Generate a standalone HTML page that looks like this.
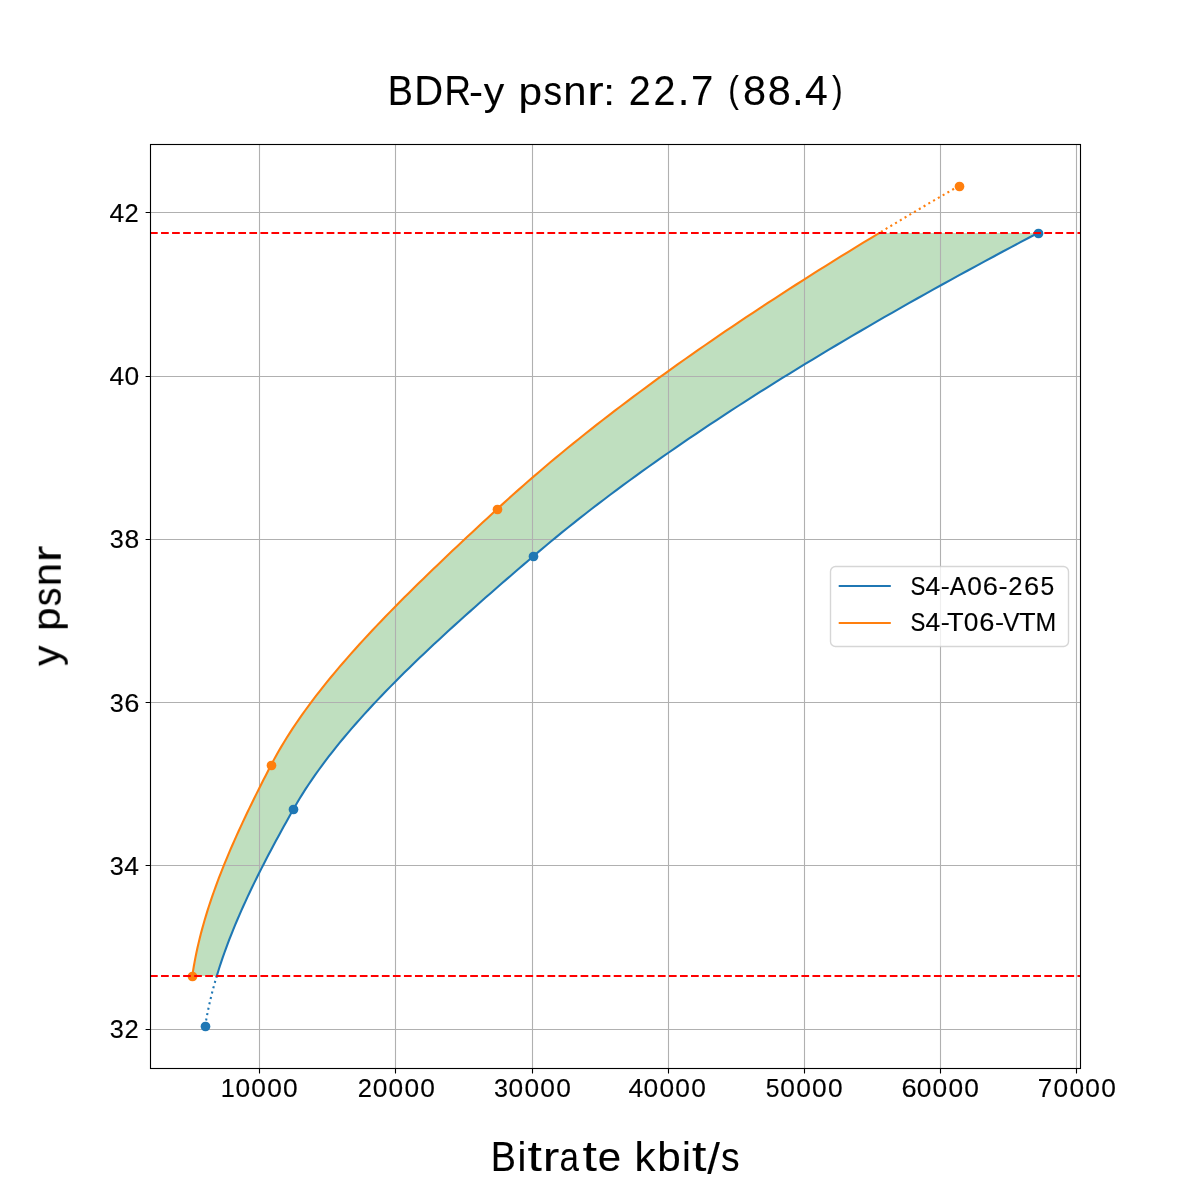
<!DOCTYPE html>
<html lang="en"><head><meta charset="utf-8"><title>BDR-y psnr: 22.7 (88.4)</title>
<style>
html,body{margin:0;padding:0;background:#ffffff;overflow:hidden}
#fig{position:relative;width:1200px;height:1200px;overflow:hidden;background:#ffffff;font-family:"Liberation Sans",sans-serif;color:#000000}
.t{position:absolute;left:0;top:0;white-space:pre;line-height:1;transform-origin:0 0;will-change:transform}
.t span{display:inline-block;width:0;transform-origin:0 0;white-space:pre}
</style></head>
<body><div id="fig">
<svg width="1200" height="1200" viewBox="0 0 1200 1200" style="position:absolute;left:0;top:0">
<defs><clipPath id="ax"><rect x="150" y="144" width="930" height="924"/></clipPath></defs>
<rect x="0" y="0" width="1200" height="1200" fill="#ffffff"/>
<g clip-path="url(#ax)">
<path d="M192.27 976.10 L192.97 971.43 L193.74 966.75 L194.57 962.08 L195.46 957.41 L196.41 952.74 L197.42 948.06 L198.49 943.39 L199.61 938.72 L200.79 934.04 L202.03 929.37 L203.32 924.70 L204.66 920.02 L206.06 915.35 L207.50 910.68 L208.99 906.01 L210.53 901.33 L212.12 896.66 L213.75 891.99 L215.43 887.31 L217.15 882.64 L218.91 877.97 L220.71 873.29 L222.56 868.62 L224.44 863.95 L226.35 859.28 L228.31 854.60 L230.29 849.93 L232.32 845.26 L234.37 840.58 L236.46 835.91 L238.57 831.24 L240.71 826.57 L242.89 821.89 L245.08 817.22 L247.31 812.55 L249.56 807.87 L251.83 803.20 L254.12 798.53 L256.43 793.85 L258.77 789.18 L261.12 784.51 L263.49 779.84 L265.87 775.16 L268.27 770.49 L270.68 765.82 L273.13 761.14 L275.68 756.47 L278.31 751.80 L281.03 747.13 L283.83 742.45 L286.71 737.78 L289.68 733.11 L292.72 728.43 L295.85 723.76 L299.05 719.09 L302.33 714.41 L305.68 709.74 L309.10 705.07 L312.59 700.40 L316.16 695.72 L319.78 691.05 L323.48 686.38 L327.24 681.70 L331.06 677.03 L334.95 672.36 L338.89 667.68 L342.90 663.01 L346.95 658.34 L351.07 653.67 L355.24 648.99 L359.46 644.32 L363.73 639.65 L368.04 634.97 L372.41 630.30 L376.82 625.63 L381.28 620.96 L385.78 616.28 L390.32 611.61 L394.90 606.94 L399.51 602.26 L404.17 597.59 L408.86 592.92 L413.58 588.24 L418.33 583.57 L423.12 578.90 L427.93 574.23 L432.77 569.55 L437.63 564.88 L442.52 560.21 L447.44 555.53 L452.37 550.86 L457.32 546.19 L462.29 541.52 L467.28 536.84 L472.28 532.17 L477.29 527.50 L482.31 522.82 L487.35 518.15 L492.39 513.48 L497.44 508.80 L502.53 504.13 L507.67 499.46 L512.86 494.79 L518.10 490.11 L523.39 485.44 L528.74 480.77 L534.13 476.09 L539.58 471.42 L545.08 466.75 L550.63 462.07 L556.23 457.40 L561.87 452.73 L567.57 448.06 L573.32 443.38 L579.11 438.71 L584.96 434.04 L590.85 429.36 L596.79 424.69 L602.78 420.02 L608.82 415.35 L614.91 410.67 L621.04 406.00 L627.22 401.33 L633.45 396.65 L639.72 391.98 L646.04 387.31 L652.41 382.63 L658.82 377.96 L665.28 373.29 L671.78 368.62 L678.33 363.94 L684.92 359.27 L691.56 354.60 L698.24 349.92 L704.97 345.25 L711.74 340.58 L718.55 335.91 L725.41 331.23 L732.31 326.56 L739.26 321.89 L746.24 317.21 L753.27 312.54 L760.34 307.87 L767.45 303.19 L774.61 298.52 L781.80 293.85 L789.04 289.18 L796.32 284.50 L803.64 279.83 L810.99 275.16 L818.39 270.48 L825.83 265.81 L833.31 261.14 L840.83 256.46 L848.39 251.79 L855.98 247.12 L863.62 242.45 L871.29 237.77 L879.00 233.10 L1037.73 233.10 L1028.85 237.77 L1020.01 242.45 L1011.21 247.12 L1002.46 251.79 L993.74 256.46 L985.06 261.14 L976.43 265.81 L967.84 270.48 L959.29 275.16 L950.78 279.83 L942.31 284.50 L933.89 289.18 L925.51 293.85 L917.18 298.52 L908.89 303.19 L900.64 307.87 L892.44 312.54 L884.28 317.21 L876.16 321.89 L868.10 326.56 L860.07 331.23 L852.10 335.91 L844.17 340.58 L836.28 345.25 L828.44 349.92 L820.65 354.60 L812.91 359.27 L805.22 363.94 L797.57 368.62 L789.97 373.29 L782.42 377.96 L774.91 382.63 L767.46 387.31 L760.06 391.98 L752.70 396.65 L745.40 401.33 L738.14 406.00 L730.94 410.67 L723.78 415.35 L716.68 420.02 L709.63 424.69 L702.63 429.36 L695.68 434.04 L688.78 438.71 L681.94 443.38 L675.15 448.06 L668.41 452.73 L661.73 457.40 L655.10 462.07 L648.52 466.75 L642.00 471.42 L635.53 476.09 L629.12 480.77 L622.76 485.44 L616.45 490.11 L610.21 494.79 L604.02 499.46 L597.88 504.13 L591.80 508.80 L585.78 513.48 L579.81 518.15 L573.91 522.82 L568.05 527.50 L562.26 532.17 L556.53 536.84 L550.85 541.52 L545.24 546.19 L539.68 550.86 L534.18 555.53 L528.72 560.21 L523.28 564.88 L517.84 569.55 L512.42 574.23 L507.02 578.90 L501.63 583.57 L496.26 588.24 L490.92 592.92 L485.59 597.59 L480.29 602.26 L475.01 606.94 L469.76 611.61 L464.53 616.28 L459.34 620.96 L454.18 625.63 L449.05 630.30 L443.96 634.97 L438.90 639.65 L433.88 644.32 L428.90 648.99 L423.96 653.67 L419.06 658.34 L414.20 663.01 L409.40 667.68 L404.63 672.36 L399.92 677.03 L395.26 681.70 L390.65 686.38 L386.09 691.05 L381.59 695.72 L377.14 700.40 L372.76 705.07 L368.43 709.74 L364.16 714.41 L359.96 719.09 L355.82 723.76 L351.75 728.43 L347.74 733.11 L343.81 737.78 L339.94 742.45 L336.15 747.13 L332.43 751.80 L328.79 756.47 L325.22 761.14 L321.73 765.82 L318.33 770.49 L315.00 775.16 L311.76 779.84 L308.60 784.51 L305.53 789.18 L302.55 793.85 L299.66 798.53 L296.86 803.20 L294.15 807.87 L291.52 812.55 L288.90 817.22 L286.30 821.89 L283.71 826.57 L281.14 831.24 L278.59 835.91 L276.06 840.58 L273.55 845.26 L271.06 849.93 L268.60 854.60 L266.16 859.28 L263.75 863.95 L261.36 868.62 L259.00 873.29 L256.67 877.97 L254.37 882.64 L252.11 887.31 L249.87 891.99 L247.67 896.66 L245.51 901.33 L243.38 906.01 L241.30 910.68 L239.25 915.35 L237.24 920.02 L235.27 924.70 L233.34 929.37 L231.46 934.04 L229.63 938.72 L227.84 943.39 L226.10 948.06 L224.41 952.74 L222.76 957.41 L221.17 962.08 L219.63 966.75 L218.15 971.43 L216.72 976.10 Z" fill="#008000" fill-opacity="0.25"/>
<path d="M259.5 144V1068M395.5 144V1068M532.5 144V1068M668.5 144V1068M804.5 144V1068M940.5 144V1068M1076.5 144V1068M150 212.5H1080M150 376.5H1080M150 539.5H1080M150 702.5H1080M150 865.5H1080M150 1029.5H1080" stroke="#b0b0b0" stroke-width="1.11" fill="none"/>
<path d="M216.72 976.10 L218.15 971.43 L219.63 966.75 L221.17 962.08 L222.76 957.41 L224.41 952.74 L226.10 948.06 L227.84 943.39 L229.63 938.72 L231.46 934.04 L233.34 929.37 L235.27 924.70 L237.24 920.02 L239.25 915.35 L241.30 910.68 L243.38 906.01 L245.51 901.33 L247.67 896.66 L249.87 891.99 L252.11 887.31 L254.37 882.64 L256.67 877.97 L259.00 873.29 L261.36 868.62 L263.75 863.95 L266.16 859.28 L268.60 854.60 L271.06 849.93 L273.55 845.26 L276.06 840.58 L278.59 835.91 L281.14 831.24 L283.71 826.57 L286.30 821.89 L288.90 817.22 L291.52 812.55 L294.15 807.87 L296.86 803.20 L299.66 798.53 L302.55 793.85 L305.53 789.18 L308.60 784.51 L311.76 779.84 L315.00 775.16 L318.33 770.49 L321.73 765.82 L325.22 761.14 L328.79 756.47 L332.43 751.80 L336.15 747.13 L339.94 742.45 L343.81 737.78 L347.74 733.11 L351.75 728.43 L355.82 723.76 L359.96 719.09 L364.16 714.41 L368.43 709.74 L372.76 705.07 L377.14 700.40 L381.59 695.72 L386.09 691.05 L390.65 686.38 L395.26 681.70 L399.92 677.03 L404.63 672.36 L409.40 667.68 L414.20 663.01 L419.06 658.34 L423.96 653.67 L428.90 648.99 L433.88 644.32 L438.90 639.65 L443.96 634.97 L449.05 630.30 L454.18 625.63 L459.34 620.96 L464.53 616.28 L469.76 611.61 L475.01 606.94 L480.29 602.26 L485.59 597.59 L490.92 592.92 L496.26 588.24 L501.63 583.57 L507.02 578.90 L512.42 574.23 L517.84 569.55 L523.28 564.88 L528.72 560.21 L534.18 555.53 L539.68 550.86 L545.24 546.19 L550.85 541.52 L556.53 536.84 L562.26 532.17 L568.05 527.50 L573.91 522.82 L579.81 518.15 L585.78 513.48 L591.80 508.80 L597.88 504.13 L604.02 499.46 L610.21 494.79 L616.45 490.11 L622.76 485.44 L629.12 480.77 L635.53 476.09 L642.00 471.42 L648.52 466.75 L655.10 462.07 L661.73 457.40 L668.41 452.73 L675.15 448.06 L681.94 443.38 L688.78 438.71 L695.68 434.04 L702.63 429.36 L709.63 424.69 L716.68 420.02 L723.78 415.35 L730.94 410.67 L738.14 406.00 L745.40 401.33 L752.70 396.65 L760.06 391.98 L767.46 387.31 L774.91 382.63 L782.42 377.96 L789.97 373.29 L797.57 368.62 L805.22 363.94 L812.91 359.27 L820.65 354.60 L828.44 349.92 L836.28 345.25 L844.17 340.58 L852.10 335.91 L860.07 331.23 L868.10 326.56 L876.16 321.89 L884.28 317.21 L892.44 312.54 L900.64 307.87 L908.89 303.19 L917.18 298.52 L925.51 293.85 L933.89 289.18 L942.31 284.50 L950.78 279.83 L959.29 275.16 L967.84 270.48 L976.43 265.81 L985.06 261.14 L993.74 256.46 L1002.46 251.79 L1011.21 247.12 L1020.01 242.45 L1028.85 237.77 L1037.73 233.10" stroke="#1f77b4" stroke-width="2.083" fill="none" stroke-linejoin="round" stroke-linecap="square"/>
<path d="M205.20 1026.00 L205.47 1024.28 L205.76 1022.56 L206.05 1020.84 L206.35 1019.12 L206.66 1017.40 L206.99 1015.68 L207.31 1013.96 L207.65 1012.23 L208.00 1010.51 L208.36 1008.79 L208.72 1007.07 L209.10 1005.35 L209.48 1003.63 L209.87 1001.91 L210.27 1000.19 L210.68 998.47 L211.09 996.75 L211.52 995.03 L211.95 993.31 L212.39 991.59 L212.84 989.87 L213.30 988.14 L213.76 986.42 L214.24 984.70 L214.72 982.98 L215.21 981.26 L215.70 979.54 L216.21 977.82 L216.72 976.10" stroke="#1f77b4" stroke-width="2.083" fill="none" stroke-dasharray="2.083 3.4375"/>
<circle cx="205.5" cy="1026.5" r="4.86" fill="#1f77b4"/>
<circle cx="293.5" cy="809.5" r="4.86" fill="#1f77b4"/>
<circle cx="533.5" cy="556.5" r="4.86" fill="#1f77b4"/>
<circle cx="1038.5" cy="233.5" r="4.86" fill="#1f77b4"/>
<path d="M192.27 976.10 L192.97 971.43 L193.74 966.75 L194.57 962.08 L195.46 957.41 L196.41 952.74 L197.42 948.06 L198.49 943.39 L199.61 938.72 L200.79 934.04 L202.03 929.37 L203.32 924.70 L204.66 920.02 L206.06 915.35 L207.50 910.68 L208.99 906.01 L210.53 901.33 L212.12 896.66 L213.75 891.99 L215.43 887.31 L217.15 882.64 L218.91 877.97 L220.71 873.29 L222.56 868.62 L224.44 863.95 L226.35 859.28 L228.31 854.60 L230.29 849.93 L232.32 845.26 L234.37 840.58 L236.46 835.91 L238.57 831.24 L240.71 826.57 L242.89 821.89 L245.08 817.22 L247.31 812.55 L249.56 807.87 L251.83 803.20 L254.12 798.53 L256.43 793.85 L258.77 789.18 L261.12 784.51 L263.49 779.84 L265.87 775.16 L268.27 770.49 L270.68 765.82 L273.13 761.14 L275.68 756.47 L278.31 751.80 L281.03 747.13 L283.83 742.45 L286.71 737.78 L289.68 733.11 L292.72 728.43 L295.85 723.76 L299.05 719.09 L302.33 714.41 L305.68 709.74 L309.10 705.07 L312.59 700.40 L316.16 695.72 L319.78 691.05 L323.48 686.38 L327.24 681.70 L331.06 677.03 L334.95 672.36 L338.89 667.68 L342.90 663.01 L346.95 658.34 L351.07 653.67 L355.24 648.99 L359.46 644.32 L363.73 639.65 L368.04 634.97 L372.41 630.30 L376.82 625.63 L381.28 620.96 L385.78 616.28 L390.32 611.61 L394.90 606.94 L399.51 602.26 L404.17 597.59 L408.86 592.92 L413.58 588.24 L418.33 583.57 L423.12 578.90 L427.93 574.23 L432.77 569.55 L437.63 564.88 L442.52 560.21 L447.44 555.53 L452.37 550.86 L457.32 546.19 L462.29 541.52 L467.28 536.84 L472.28 532.17 L477.29 527.50 L482.31 522.82 L487.35 518.15 L492.39 513.48 L497.44 508.80 L502.53 504.13 L507.67 499.46 L512.86 494.79 L518.10 490.11 L523.39 485.44 L528.74 480.77 L534.13 476.09 L539.58 471.42 L545.08 466.75 L550.63 462.07 L556.23 457.40 L561.87 452.73 L567.57 448.06 L573.32 443.38 L579.11 438.71 L584.96 434.04 L590.85 429.36 L596.79 424.69 L602.78 420.02 L608.82 415.35 L614.91 410.67 L621.04 406.00 L627.22 401.33 L633.45 396.65 L639.72 391.98 L646.04 387.31 L652.41 382.63 L658.82 377.96 L665.28 373.29 L671.78 368.62 L678.33 363.94 L684.92 359.27 L691.56 354.60 L698.24 349.92 L704.97 345.25 L711.74 340.58 L718.55 335.91 L725.41 331.23 L732.31 326.56 L739.26 321.89 L746.24 317.21 L753.27 312.54 L760.34 307.87 L767.45 303.19 L774.61 298.52 L781.80 293.85 L789.04 289.18 L796.32 284.50 L803.64 279.83 L810.99 275.16 L818.39 270.48 L825.83 265.81 L833.31 261.14 L840.83 256.46 L848.39 251.79 L855.98 247.12 L863.62 242.45 L871.29 237.77 L879.00 233.10" stroke="#ff7f0e" stroke-width="2.083" fill="none" stroke-linejoin="round" stroke-linecap="square"/>
<path d="M958.80 186.00 L955.99 187.62 L953.18 189.25 L950.37 190.87 L947.57 192.50 L944.78 194.12 L941.99 195.74 L939.20 197.37 L936.42 198.99 L933.64 200.62 L930.86 202.24 L928.09 203.87 L925.33 205.49 L922.57 207.11 L919.81 208.74 L917.06 210.36 L914.31 211.99 L911.57 213.61 L908.83 215.23 L906.10 216.86 L903.37 218.48 L900.64 220.11 L897.92 221.73 L895.20 223.36 L892.49 224.98 L889.78 226.60 L887.08 228.23 L884.38 229.85 L881.69 231.48 L879.00 233.10" stroke="#ff7f0e" stroke-width="2.083" fill="none" stroke-dasharray="2.083 3.4375"/>
<circle cx="192.5" cy="976.5" r="4.86" fill="#ff7f0e"/>
<circle cx="271.5" cy="765.5" r="4.86" fill="#ff7f0e"/>
<circle cx="497.5" cy="509.5" r="4.86" fill="#ff7f0e"/>
<circle cx="959.5" cy="186.5" r="4.86" fill="#ff7f0e"/>
<path d="M150 233H1080" stroke="#ff0000" stroke-width="2.083" stroke-dasharray="7.708 3.333" fill="none"/>
<path d="M150 976H1080" stroke="#ff0000" stroke-width="2.083" stroke-dasharray="7.708 3.333" fill="none"/>
</g>
<path d="M259.5 1068.5V1073.4M395.5 1068.5V1073.4M532.5 1068.5V1073.4M668.5 1068.5V1073.4M804.5 1068.5V1073.4M940.5 1068.5V1073.4M1076.5 1068.5V1073.4M150.5 212.5H145.6M150.5 376.5H145.6M150.5 539.5H145.6M150.5 702.5H145.6M150.5 865.5H145.6M150.5 1029.5H145.6" stroke="#000000" stroke-width="1.11" fill="none"/>
<rect x="150.5" y="144.5" width="930" height="924" fill="none" stroke="#000000" stroke-width="1.11"/>
<rect x="830.5" y="566.5" width="238" height="80" rx="5" ry="5" fill="#ffffff" fill-opacity="0.8" stroke="#cccccc" stroke-opacity="0.8" stroke-width="1.39"/>
<path d="M838.7 586H890.8" stroke="#1f77b4" stroke-width="2.083"/>
<path d="M838.7 623H890.8" stroke="#ff7f0e" stroke-width="2.083"/>
</svg>
<div class="t" style="font-size:41px;transform:translate(386.976px,71px);-webkit-text-stroke:0.1px #000"><span style="transform:matrix(0.921,0,0,1.028,0.777,-0.955)">B</span><span style="transform:matrix(0.977,0,0,1.028,27.336,-0.955)">D</span><span style="transform:matrix(0.895,0,0,1.028,57.488,-0.955)">R</span><span style="transform:matrix(1.024,0,0,0.933,82.009,1.947)">-</span><span style="transform:matrix(1,0,0,0.961,96.684,1.139)">y</span><span> </span><span style="transform:matrix(1.033,0,0,0.965,131.517,0.993)">p</span><span style="transform:matrix(0.907,0,0,0.98,156.463,0.761)">s</span><span style="transform:matrix(1.02,0,0,0.973,176.346,0.905)">n</span><span style="transform:matrix(1.207,0,0,0.974,200.336,0.899)">r</span><span style="transform:matrix(1.025,0,0,0.923,216.164,2.607)">:</span><span> </span><span style="transform:matrix(0.964,0,0,1.029,241.761,-1.001)">2</span><span style="transform:matrix(0.964,0,0,1.03,266.51,-1.01)">2</span><span style="transform:matrix(1.026,0,0,1.14,290.658,-4.775)">.</span><span style="transform:matrix(0.979,0,0,1.028,303.942,-0.955)">7</span><span> </span><span style="transform:matrix(0.78,0,0,0.916,341.364,0.068)">(</span><span style="transform:matrix(1.011,0,0,1.032,355.971,-1.028)">8</span><span style="transform:matrix(1.011,0,0,1.032,380.719,-1.023)">8</span><span style="transform:matrix(1.026,0,0,1.14,404.909,-4.775)">.</span><span style="transform:matrix(0.998,0,0,1.028,418.061,-0.955)">4</span><span style="transform:matrix(0.78,0,0,0.916,444.922,0.068)">)</span></div>
<div class="t" style="font-size:41px;transform:translate(489.881px,1137.253px);-webkit-text-stroke:0.1px #000"><span style="transform:matrix(0.921,0,0,1.028,0.777,-0.955)">B</span><span style="transform:matrix(0.973,0,0,1.01,27.704,-0.333)">i</span><span style="transform:matrix(1.266,0,0,1.025,37.712,-1.185)">t</span><span style="transform:matrix(1.214,0,0,0.973,52.816,0.917)">r</span><span style="transform:matrix(0.854,0,0,0.977,69.533,0.86)">a</span><span style="transform:matrix(1.266,0,0,1.025,92.712,-1.185)">t</span><span style="transform:matrix(1.026,0,0,0.977,107.986,0.866)">e</span><span> </span><span style="transform:matrix(1.027,0,0,1.01,144.661,-0.333)">k</span><span style="transform:matrix(1.03,0,0,1.012,167.277,-0.342)">b</span><span style="transform:matrix(0.972,0,0,1.01,192.084,-0.333)">i</span><span style="transform:matrix(1.266,0,0,1.025,202.089,-1.185)">t</span><span style="transform:matrix(1.109,0,0,1.079,217.298,0.368)">/</span><span style="transform:matrix(0.907,0,0,0.981,231.212,0.745)">s</span></div>
<div class="t" style="font-size:41px;transform:translate(60.752px,667.228px) rotate(-90deg) translate(0,-34px);-webkit-text-stroke:0.1px #000"><span style="transform:matrix(0.999,0,0,0.961,1.308,0.639)">y</span><span> </span><span style="transform:matrix(1.033,0,0,0.964,36.145,0.504)">p</span><span style="transform:matrix(0.907,0,0,0.981,61.087,0.237)">s</span><span style="transform:matrix(1.019,0,0,0.973,80.974,0.423)">n</span><span style="transform:matrix(1.214,0,0,0.973,104.942,0.423)">r</span></div>
<div class="t" style="font-size:26.4px;transform:translate(910.941px,572.875px);-webkit-text-stroke:0.15px #000"><span style="transform:matrix(0.842,0,0,0.961,-0.343,0.604)">S</span><span style="transform:matrix(1.001,0,0,0.991,14.515,0.197)">4</span><span style="transform:matrix(1.029,0,0,0.926,29.915,1.167)">-</span><span style="transform:matrix(0.932,0,0,0.991,38.838,0.197)">A</span><span style="transform:matrix(0.997,0,0,0.96,56.243,0.598)">0</span><span style="transform:matrix(1.032,0,0,0.96,71.887,0.613)">6</span><span style="transform:matrix(1.028,0,0,0.926,87.543,1.167)">-</span><span style="transform:matrix(0.967,0,0,0.975,97.214,0.541)">2</span><span style="transform:matrix(1.032,0,0,0.959,113.013,0.624)">6</span><span style="transform:matrix(0.935,0,0,0.976,129.509,0.254)">5</span></div>
<div class="t" style="font-size:26.4px;transform:translate(910.941px,608.875px);-webkit-text-stroke:0.15px #000"><span style="transform:matrix(0.842,0,0,0.961,-0.343,0.604)">S</span><span style="transform:matrix(1.001,0,0,0.991,14.515,0.197)">4</span><span style="transform:matrix(1.029,0,0,0.926,29.915,1.167)">-</span><span style="transform:matrix(1.03,0,0,0.991,36.138,0.197)">T</span><span style="transform:matrix(0.997,0,0,0.958,52.745,0.625)">0</span><span style="transform:matrix(1.031,0,0,0.961,68.39,0.597)">6</span><span style="transform:matrix(1.029,0,0,0.926,84.04,1.167)">-</span><span style="transform:matrix(0.936,0,0,0.991,91.946,0.197)">V</span><span style="transform:matrix(1.029,0,0,0.991,108.163,0.197)">T</span><span style="transform:matrix(0.942,0,0,0.991,124.585,0.197)">M</span></div>
<div class="t" style="font-size:26.4px;transform:translate(221.989px,1075px);-webkit-text-stroke:0.15px #000"><span style="transform:matrix(0.956,0,0,0.991,-1.173,0.197)">1</span><span style="transform:matrix(0.997,0,0,0.96,13.494,0.609)">0</span><span style="transform:matrix(0.997,0,0,0.96,29.368,0.603)">0</span><span style="transform:matrix(0.997,0,0,0.96,45.243,0.598)">0</span><span style="transform:matrix(0.997,0,0,0.96,61.117,0.598)">0</span></div>
<div class="t" style="font-size:26.4px;transform:translate(358.065px,1074.965px);-webkit-text-stroke:0.15px #000"><span style="transform:matrix(0.967,0,0,0.975,-0.409,0.546)">2</span><span style="transform:matrix(0.997,0,0,0.958,14.619,0.625)">0</span><span style="transform:matrix(0.997,0,0,0.96,30.494,0.609)">0</span><span style="transform:matrix(0.997,0,0,0.96,46.368,0.603)">0</span><span style="transform:matrix(0.997,0,0,0.96,62.243,0.598)">0</span></div>
<div class="t" style="font-size:26.4px;transform:translate(494.09px,1074.982px);-webkit-text-stroke:0.15px #000"><span style="transform:matrix(0.956,0,0,0.961,-0.087,0.589)">3</span><span style="transform:matrix(0.997,0,0,0.96,14.494,0.609)">0</span><span style="transform:matrix(0.997,0,0,0.96,30.368,0.603)">0</span><span style="transform:matrix(0.997,0,0,0.96,46.243,0.598)">0</span><span style="transform:matrix(0.997,0,0,0.96,62.117,0.598)">0</span></div>
<div class="t" style="font-size:26.4px;transform:translate(628.946px,1075px);-webkit-text-stroke:0.15px #000"><span style="transform:matrix(1.001,0,0,0.991,-0.359,0.197)">4</span><span style="transform:matrix(0.997,0,0,0.958,14.619,0.625)">0</span><span style="transform:matrix(0.997,0,0,0.96,30.494,0.609)">0</span><span style="transform:matrix(0.997,0,0,0.96,46.368,0.603)">0</span><span style="transform:matrix(0.997,0,0,0.96,62.243,0.598)">0</span></div>
<div class="t" style="font-size:26.4px;transform:translate(765.896px,1075.043px);-webkit-text-stroke:0.15px #000"><span style="transform:matrix(0.935,0,0,0.976,-0.114,0.254)">5</span><span style="transform:matrix(0.997,0,0,0.96,14.368,0.603)">0</span><span style="transform:matrix(0.997,0,0,0.96,30.243,0.598)">0</span><span style="transform:matrix(0.997,0,0,0.96,46.117,0.598)">0</span><span style="transform:matrix(0.997,0,0,0.96,61.992,0.603)">0</span></div>
<div class="t" style="font-size:26.4px;transform:translate(902.072px,1075.002px);-webkit-text-stroke:0.15px #000"><span style="transform:matrix(1.031,0,0,0.961,-0.61,0.597)">6</span><span style="transform:matrix(0.997,0,0,0.958,14.619,0.625)">0</span><span style="transform:matrix(0.997,0,0,0.96,30.494,0.609)">0</span><span style="transform:matrix(0.997,0,0,0.96,46.368,0.603)">0</span><span style="transform:matrix(0.997,0,0,0.96,62.243,0.598)">0</span></div>
<div class="t" style="font-size:26.4px;transform:translate(1039.033px,1075px);-webkit-text-stroke:0.15px #000"><span style="transform:matrix(0.979,0,0,0.991,-1.325,0.197)">7</span><span style="transform:matrix(0.997,0,0,0.96,14.494,0.609)">0</span><span style="transform:matrix(0.997,0,0,0.96,30.368,0.603)">0</span><span style="transform:matrix(0.997,0,0,0.96,46.243,0.598)">0</span><span style="transform:matrix(0.997,0,0,0.96,62.117,0.598)">0</span></div>
<div class="t" style="font-size:26.4px;transform:translate(109.976px,200px);-webkit-text-stroke:0.15px #000"><span style="transform:matrix(1.001,0,0,0.991,-0.359,0.197)">4</span><span style="transform:matrix(0.967,0,0,0.975,14.591,0.546)">2</span></div>
<div class="t" style="font-size:26.4px;transform:translate(109.887px,363px);-webkit-text-stroke:0.15px #000"><span style="transform:matrix(1.001,0,0,0.991,-0.359,0.197)">4</span><span style="transform:matrix(0.997,0,0,0.958,14.619,0.625)">0</span></div>
<div class="t" style="font-size:26.4px;transform:translate(109.888px,526.002px);-webkit-text-stroke:0.15px #000"><span style="transform:matrix(0.956,0,0,0.961,-0.087,0.589)">3</span><span style="transform:matrix(1.002,0,0,0.961,14.525,0.593)">8</span></div>
<div class="t" style="font-size:26.4px;transform:translate(109.869px,689.99px);-webkit-text-stroke:0.15px #000"><span style="transform:matrix(0.956,0,0,0.961,-0.087,0.589)">3</span><span style="transform:matrix(1.031,0,0,0.96,14.264,0.607)">6</span></div>
<div class="t" style="font-size:26.4px;transform:translate(109.797px,853px);-webkit-text-stroke:0.15px #000"><span style="transform:matrix(0.956,0,0,0.961,-0.087,0.589)">3</span><span style="transform:matrix(1.001,0,0,0.991,14.515,0.197)">4</span></div>
<div class="t" style="font-size:26.4px;transform:translate(109.955px,1015.973px);-webkit-text-stroke:0.15px #000"><span style="transform:matrix(0.956,0,0,0.961,-0.087,0.589)">3</span><span style="transform:matrix(0.967,0,0,0.975,14.465,0.555)">2</span></div>
</div></body></html>
